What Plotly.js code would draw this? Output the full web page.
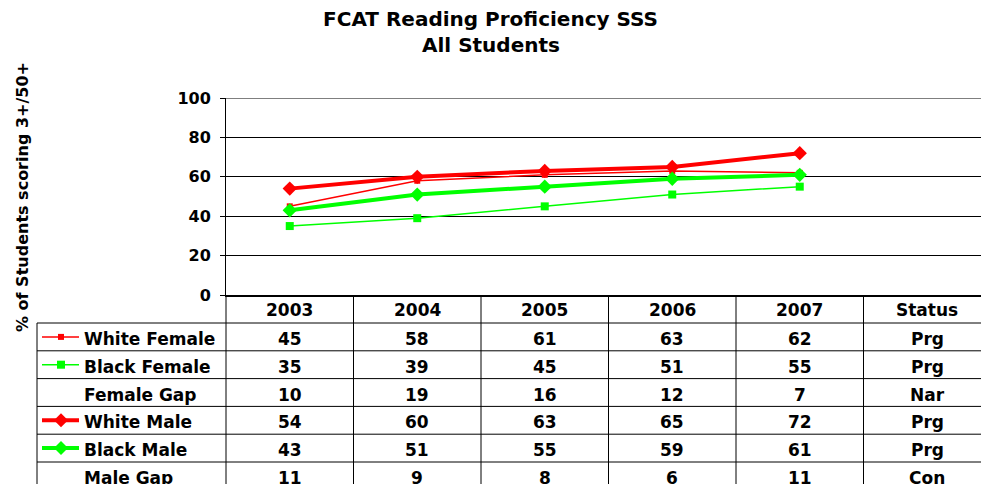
<!DOCTYPE html>
<html>
<head>
<meta charset="utf-8">
<script src="https://cdn.plot.ly/plotly-3.0.1.min.js"></script>
<style>html,body{margin:0;padding:0;background:#fff;overflow:hidden;}#chart{width:981px;height:484px;}</style>
</head>
<body>
<div id="chart"></div>
<script>
// ---- data ----
const years = ['2003', '2004', '2005', '2006', '2007'];
const statusHeader = 'Status';
const rowLabels = ['White Female', 'Black Female', 'Female Gap', 'White Male', 'Black Male', 'Male Gap'];
const whiteFemale = [45, 58, 61, 63, 62];
const blackFemale = [35, 39, 45, 51, 55];
const femaleGap = [10, 19, 16, 12, 7];
const whiteMale = [54, 60, 63, 65, 72];
const blackMale = [43, 51, 55, 59, 61];
const maleGap = [11, 9, 8, 6, 11];
const statuses = ['Prg', 'Prg', 'Nar', 'Prg', 'Prg', 'Con'];
const yTicks = [0, 20, 40, 60, 80, 100];

// ---- layout geometry (pixels) ----
const W = 981, H = 484, TOP = 98;
const PLOT_LEFT = 226, PLOT_BOTTOM = 295, COL_W = 127.5;
const LABEL_LEFT = 37, HEADER_BOTTOM = 323, ROW_H = 27.8;
const FONT = 'DejaVu Sans';
const RED = '#FF0000', GREEN = '#00FF00';

const px = x => x / W;
const py = y => (H - y) / (H - TOP);
const xIdx = years.map((_, i) => i);
const xRange = [-0.5, -0.5 + (W - PLOT_LEFT) / COL_W];

const rows = [
  {name: rowLabels[0], vals: whiteFemale, status: statuses[0], plot: true, color: RED, width: 1.5, symbol: 'square', msize: 6},
  {name: rowLabels[1], vals: blackFemale, status: statuses[1], plot: true, color: GREEN, width: 1.5, symbol: 'square', msize: 8},
  {name: rowLabels[2], vals: femaleGap, status: statuses[2], plot: false},
  {name: rowLabels[3], vals: whiteMale, status: statuses[3], plot: true, color: RED, width: 4, symbol: 'diamond', msize: 11},
  {name: rowLabels[4], vals: blackMale, status: statuses[4], plot: true, color: GREEN, width: 4, symbol: 'diamond', msize: 11},
  {name: rowLabels[5], vals: maleGap, status: statuses[5], plot: false}
];

const traces = rows.filter(r => r.plot).map(r => ({
  type: 'scatter', mode: 'lines+markers', name: r.name,
  x: xIdx, y: r.vals,
  line: {color: r.color, width: r.width},
  marker: {color: r.color, symbol: r.symbol, size: r.msize, line: {width: 0}},
  hoverinfo: 'skip', showlegend: false, cliponaxis: false
}));

const tfont = {family: FONT, size: 17, color: '#000', weight: 'bold'};
const tickFont = {family: FONT, size: 16, color: '#000', weight: 'bold'};
const titleFont = {family: FONT, size: 20, color: '#000', weight: 'bold'};
const annotations = [];
const shapes = [];

// title second line
annotations.push({text: 'All Students', xref: 'paper', yref: 'paper', x: 0.5, y: py(45),
  xanchor: 'center', yanchor: 'middle', showarrow: false, font: titleFont});
// y axis title
annotations.push({text: '% of Students scoring 3+/50+', xref: 'paper', yref: 'paper', x: px(22), y: py(197),
  xanchor: 'center', yanchor: 'middle', textangle: -90, showarrow: false,
  font: {family: FONT, size: 16, color: '#000', weight: 'bold'}});

// header row
const headers = years.concat([statusHeader]);
headers.forEach((h, i) => annotations.push({text: h, xref: 'x', yref: 'paper', x: i, y: py(PLOT_BOTTOM + 15),
  xanchor: 'center', yanchor: 'middle', showarrow: false, font: tfont}));

// body rows
rows.forEach((r, k) => {
  const cy = HEADER_BOTTOM + (k + 0.5) * ROW_H + 2;
  annotations.push({text: r.name, xref: 'paper', yref: 'paper', x: px(82), y: py(cy),
    xanchor: 'left', yanchor: 'middle', showarrow: false, font: tfont});
  r.vals.forEach((v, i) => annotations.push({text: String(v), xref: 'x', yref: 'paper', x: i, y: py(cy),
    xanchor: 'center', yanchor: 'middle', showarrow: false, font: tfont}));
  annotations.push({text: r.status, xref: 'x', yref: 'paper', x: headers.length - 1, y: py(cy),
    xanchor: 'center', yanchor: 'middle', showarrow: false, font: tfont});
  // legend key
  if (r.plot) {
    const ky = HEADER_BOTTOM + (k + 0.5) * ROW_H;
    shapes.push({type: 'line', xref: 'paper', yref: 'paper', x0: px(42), x1: px(79), y0: py(ky), y1: py(ky),
      line: {color: r.color, width: r.width === 4 ? 4 : 1.5}});
    const mx = 61;
    if (r.symbol === 'square') {
      const h = r.msize / 2;
      shapes.push({type: 'rect', xref: 'paper', yref: 'paper', x0: px(mx - h), x1: px(mx + h), y0: py(ky - h), y1: py(ky + h),
        fillcolor: r.color, line: {width: 0}});
    } else {
      const h = 7;
      const p = `M ${px(mx - h)} ${py(ky)} L ${px(mx)} ${py(ky - h)} L ${px(mx + h)} ${py(ky)} L ${px(mx)} ${py(ky + h)} Z`;
      shapes.push({type: 'path', xref: 'paper', yref: 'paper', path: p, fillcolor: r.color, line: {width: 0}});
    }
  }
});

// table grid lines
const gridLine = {color: '#000', width: 1};
for (let b = 0; b <= headers.length; b++) {
  const x = PLOT_LEFT + b * COL_W;
  if (x > W) break;
  shapes.push({type: 'line', xref: 'paper', yref: 'paper', x0: px(x), x1: px(x), y0: py(PLOT_BOTTOM), y1: py(H + 10), line: gridLine});
}
shapes.push({type: 'line', xref: 'paper', yref: 'paper', x0: px(LABEL_LEFT), x1: px(LABEL_LEFT), y0: py(HEADER_BOTTOM), y1: py(H + 10), line: gridLine});
for (let k = 0; k <= rows.length; k++) {
  const y = HEADER_BOTTOM + k * ROW_H;
  shapes.push({type: 'line', xref: 'paper', yref: 'paper', x0: px(LABEL_LEFT), x1: 1, y0: py(y), y1: py(y), line: gridLine});
}
// top gridline at 100
shapes.push({type: 'line', xref: 'paper', yref: 'y', x0: px(PLOT_LEFT), x1: 1, y0: 100, y1: 100, line: gridLine, layer: 'below'});

const layout = {
  width: W, height: H,
  margin: {l: 0, r: 0, t: TOP, b: 0, pad: 0},
  paper_bgcolor: '#fff', plot_bgcolor: 'rgba(0,0,0,0)',
  title: {text: 'FCAT Reading Proficiency SSS', x: 0.5, xanchor: 'center', xref: 'paper',
    y: 1 - 19 / H, yref: 'container', yanchor: 'middle', font: titleFont},
  xaxis: {domain: [px(PLOT_LEFT), 1], range: xRange, showticklabels: false, ticks: '', showgrid: false,
    zeroline: false, showline: true, linecolor: '#000', linewidth: 2, fixedrange: true},
  yaxis: {domain: [py(PLOT_BOTTOM), 1], range: [0, 100], tickvals: yTicks, ticks: 'outside', ticklen: 5,
    tickcolor: '#000', tickwidth: 1, showgrid: true, gridcolor: '#000', gridwidth: 1, zeroline: false,
    showline: true, linecolor: '#000', linewidth: 1, tickfont: tickFont, ticklabelstandoff: 6, fixedrange: true},
  showlegend: false,
  annotations: annotations,
  shapes: shapes
};

Plotly.newPlot('chart', traces, layout, {displayModeBar: false, staticPlot: true});
</script>
</body>
</html>
